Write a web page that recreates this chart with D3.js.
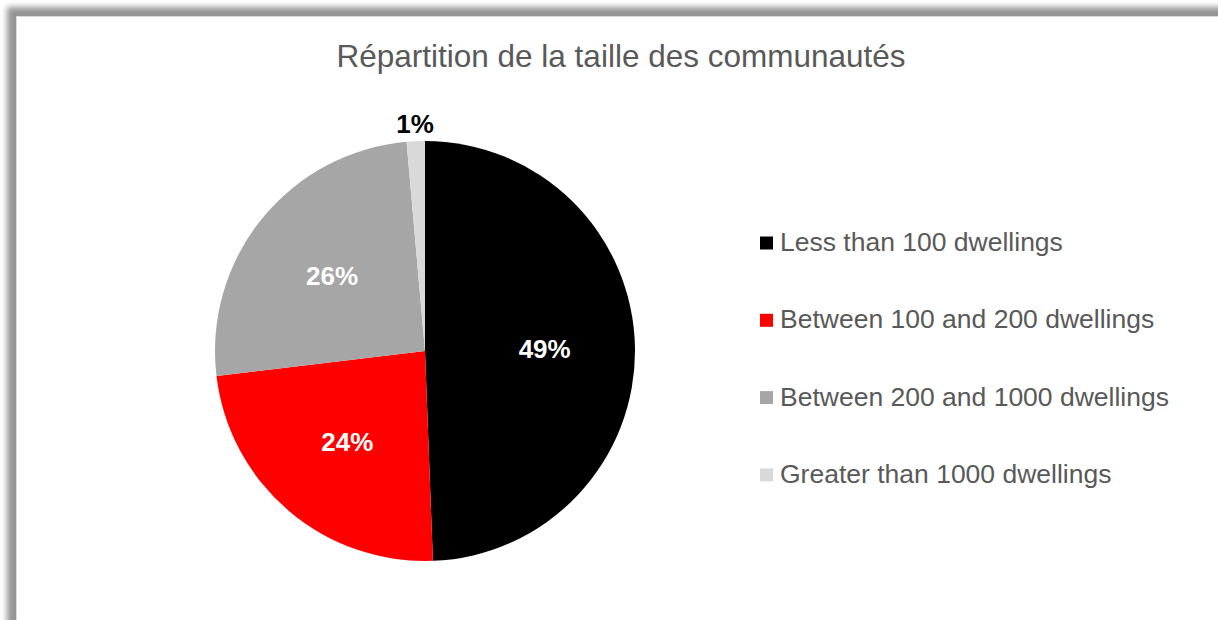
<!DOCTYPE html>
<html>
<head>
<meta charset="utf-8">
<script src="https://cdn.jsdelivr.net/npm/d3@7"></script>
<style>
  html, body { margin: 0; padding: 0; background: #fff; overflow: hidden; }
  #frame {
    position: absolute; left: 16px; top: 16px; width: 1240px; height: 640px;
    background: #fff; border: 1px solid #d9d9d9;
    box-shadow: -5px -5px 6px 4px rgba(0,0,0,0.42);
  }
  svg { position: absolute; left: 0; top: 0; }
</style>
</head>
<body>
<div id="frame"></div>
<svg id="chart" width="1218" height="620"></svg>
<script>
'use strict';

var title = 'Répartition de la taille des communautés';
var categories = ['Less than 100 dwellings', 'Between 100 and 200 dwellings',
  'Between 200 and 1000 dwellings', 'Greater than 1000 dwellings'];
var shares = [49.4, 23.7, 25.5, 1.4];
var colors = ['#000000', '#ff0000', '#a6a6a6', '#d9d9d9'];

var font = 'Liberation Sans, Arial, sans-serif';
var cx = 425, cy = 351, radius = 210;

function translate(x, y) {
  return 'translate(' + x + ',' + y + ')';
}

var svg = d3.select('#chart');

svg.append('text')
  .attr('x', 621)
  .attr('y', 67)
  .attr('text-anchor', 'middle')
  .attr('font-family', font)
  .attr('font-size', 31.5)
  .attr('fill', '#595959')
  .text(title);

var data = categories.map(function (c, i) {
  return {name: c, value: shares[i], color: colors[i]};
});

var pie = d3.pie().sort(null).value(function (d) { return d.value; });
var arc = d3.arc().innerRadius(0).outerRadius(radius);
var labelArc = d3.arc().innerRadius(radius * 0.57).outerRadius(radius * 0.57);
var outerArc = d3.arc().innerRadius(radius + 18).outerRadius(radius + 18);

var g = svg.append('g').attr('transform', translate(cx, cy));
var arcs = pie(data);

g.selectAll('path')
  .data(arcs)
  .enter()
  .append('path')
  .attr('d', arc)
  .attr('fill', function (d) { return d.data.color; });

g.selectAll('text.pct')
  .data(arcs)
  .enter()
  .append('text')
  .attr('class', 'pct')
  .attr('transform', function (d) {
    // tiny slices get their label outside the pie
    var small = d.data.value < 5;
    var p = small ? outerArc.centroid(d) : labelArc.centroid(d);
    return translate(p[0], p[1]);
  })
  .attr('dy', '0.36em')
  .attr('text-anchor', 'middle')
  .attr('font-family', font)
  .attr('font-weight', 'bold')
  .attr('font-size', 26)
  .attr('fill', function (d) { return d.data.value < 5 ? '#000' : '#fff'; })
  .text(function (d) { return Math.round(d.data.value) + '%'; });

var legend = svg.append('g').attr('transform', translate(760, 241.5));
var rows = legend.selectAll('g')
  .data(data)
  .enter()
  .append('g')
  .attr('transform', function (d, i) { return translate(0, i * 77.3); });

rows.append('rect')
  .attr('x', 0).attr('y', -5)
  .attr('width', 13).attr('height', 13)
  .attr('fill', function (d) { return d.color; });

rows.append('text')
  .attr('x', 20)
  .attr('dy', '0.36em')
  .attr('font-family', font)
  .attr('font-size', 26.5)
  .attr('fill', '#595959')
  .text(function (d) { return d.name; });
</script>
</body>
</html>
